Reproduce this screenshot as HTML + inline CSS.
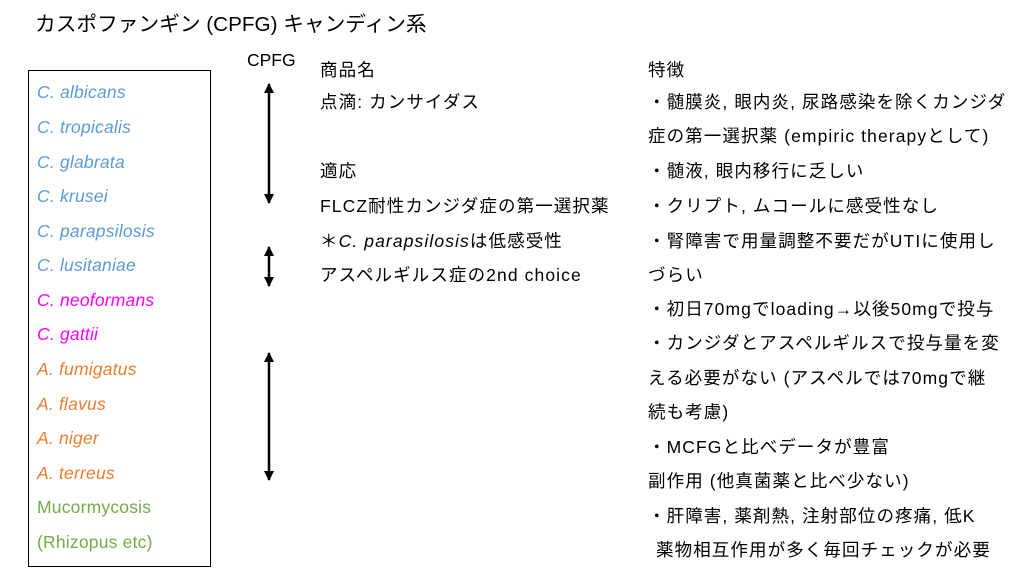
<!DOCTYPE html>
<html><head><meta charset="utf-8"><style>
body{margin:0;width:1024px;height:576px;background:#fff;position:relative;overflow:hidden;font-family:"Liberation Sans","Noto Sans CJK JP",sans-serif;color:#000}
.t{position:absolute;font-size:17.5px;line-height:20px;white-space:nowrap;letter-spacing:1.1px}
.s{position:absolute;left:37px;font-size:17.5px;line-height:20px;font-style:italic;white-space:nowrap;letter-spacing:0.2px}
.b{color:#5b9bd5}.m{color:#ff00ff}.o{color:#ed7d31}.g{color:#70ad47;font-style:normal}
</style></head><body>
<div class="t" style="left:35px;top:13px;font-size:20.7px;line-height:24px;letter-spacing:0">カスポファンギン (CPFG) キャンディン系</div>
<div style="position:absolute;left:28px;top:70px;width:181px;height:495px;border:1px solid #000"></div>
<div class="s b" style="top:82px">C. albicans</div>
<div class="s b" style="top:117px">C. tropicalis</div>
<div class="s b" style="top:152px">C. glabrata</div>
<div class="s b" style="top:186px">C. krusei</div>
<div class="s b" style="top:221px">C. parapsilosis</div>
<div class="s b" style="top:255px">C. lusitaniae</div>
<div class="s m" style="top:290px">C. neoformans</div>
<div class="s m" style="top:324px">C. gattii</div>
<div class="s o" style="top:359px">A. fumigatus</div>
<div class="s o" style="top:394px">A. flavus</div>
<div class="s o" style="top:428px">A. niger</div>
<div class="s o" style="top:463px">A. terreus</div>
<div class="s g" style="top:497px">Mucormycosis</div>
<div class="s g" style="top:532px">(Rhizopus etc)</div>
<div class="t" style="left:247px;top:50px;letter-spacing:0">CPFG</div>
<svg style="position:absolute;left:0;top:0" width="1024" height="576">
<defs><marker id="a" markerWidth="10" markerHeight="10" refX="9" refY="5" orient="auto-start-reverse" markerUnits="userSpaceOnUse"><path d="M0,0L10,5L0,10z" fill="#000"/></marker></defs>
<line x1="269" y1="84" x2="269" y2="203" stroke="#000" stroke-width="2.5" marker-start="url(#a)" marker-end="url(#a)"/>
<line x1="269" y1="247" x2="269" y2="286" stroke="#000" stroke-width="2.5" marker-start="url(#a)" marker-end="url(#a)"/>
<line x1="269" y1="353" x2="269" y2="480" stroke="#000" stroke-width="2.5" marker-start="url(#a)" marker-end="url(#a)"/>
</svg>
<div class="t" style="left:320px;top:60px">商品名</div>
<div class="t" style="left:320px;top:92px">点滴: カンサイダス</div>
<div class="t" style="left:320px;top:161px">適応</div>
<div class="t" style="left:320px;top:196px">FLCZ耐性カンジダ症の第一選択薬</div>
<div class="t" style="left:320px;top:231px">＊<i>C. parapsilosis</i>は低感受性</div>
<div class="t" style="left:320px;top:265px">アスペルギルス症の2nd choice</div>
<div class="t" style="left:648px;top:60px">特徴</div>
<div class="t" style="left:648px;top:92px">・髄膜炎, 眼内炎, 尿路感染を除くカンジダ</div>
<div class="t" style="left:648px;top:126px">症の第一選択薬 (empiric therapyとして)</div>
<div class="t" style="left:648px;top:161px">・髄液, 眼内移行に乏しい</div>
<div class="t" style="left:648px;top:196px">・クリプト, ムコールに感受性なし</div>
<div class="t" style="left:648px;top:231px">・腎障害で用量調整不要だがUTIに使用し</div>
<div class="t" style="left:648px;top:265px">づらい</div>
<div class="t" style="left:648px;top:299px">・初日70mgでloading→以後50mgで投与</div>
<div class="t" style="left:648px;top:333px">・カンジダとアスペルギルスで投与量を変</div>
<div class="t" style="left:648px;top:368px">える必要がない (アスペルでは70mgで継</div>
<div class="t" style="left:648px;top:402px">続も考慮)</div>
<div class="t" style="left:648px;top:437px">・MCFGと比べデータが豊富</div>
<div class="t" style="left:648px;top:471px">副作用 (他真菌薬と比べ少ない)</div>
<div class="t" style="left:648px;top:506px">・肝障害, 薬剤熱, 注射部位の疼痛, 低K</div>
<div class="t" style="left:656px;top:540px">薬物相互作用が多く毎回チェックが必要</div>
</body></html>
